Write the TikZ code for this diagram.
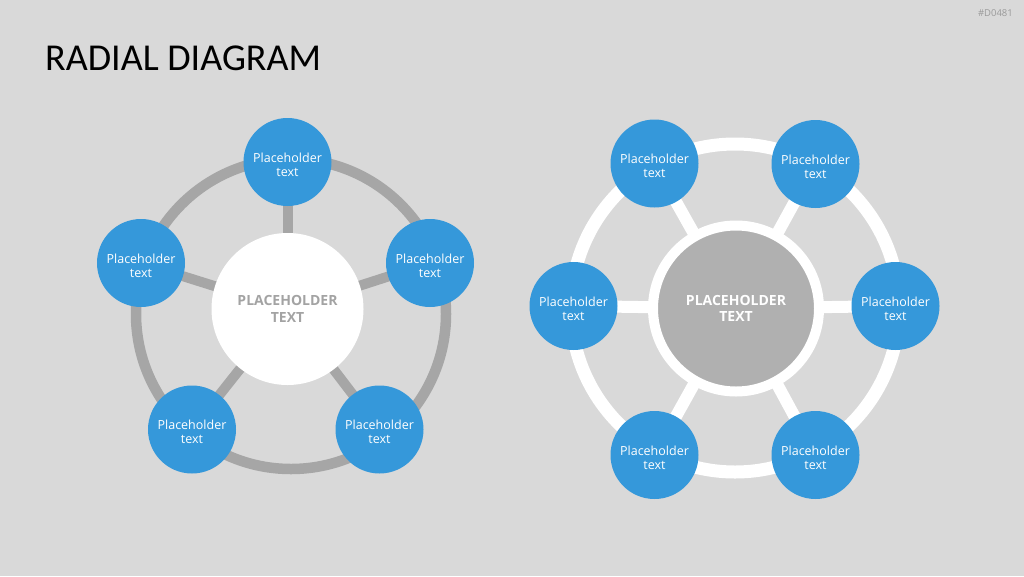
\documentclass[tikz,border=0pt]{standalone}
\usepackage{fontspec}
\setmainfont{Open Sans}
\newfontfamily\titlefont{Carlito}
\definecolor{bgcol}{HTML}{D9D9D9}
\definecolor{bluecol}{HTML}{3598DA}
\definecolor{ringgray}{HTML}{A6A6A6}
\definecolor{centergray}{HTML}{B0B0B0}
\definecolor{textgray}{HTML}{A3A3A3}
\definecolor{taggray}{HTML}{9A9A9A}
\pgfdeclarelayer{bg}
\pgfdeclarelayer{links}
\pgfsetlayers{bg,links,main}
\tikzset{
  sattext/.style={align=center, text=white, inner sep=0pt, yshift=-2.5pt,
    font=\fontsize{12.5}{14.3}\selectfont},
  sat/.style={circle, fill=bluecol, minimum size=88pt, inner sep=0pt,
    label={[sattext]center:{Placeholder\\text}}},
  centerL/.style={circle, fill=white, minimum size=152pt, inner sep=0pt, align=center,
    text=textgray, font=\bfseries\fontsize{14}{16.3}\selectfont},
  centerR/.style={circle, fill=centergray, draw=white, line width=10pt, minimum size=166pt,
    inner sep=0pt, align=center, text=white, font=\bfseries\fontsize{14}{16.3}\selectfont},
  spokeL/.style={draw=ringgray, line width=10pt},
  ringL/.style={draw=ringgray, line width=10.5pt},
  spokeR/.style={draw=white, line width=12pt},
  ringR/.style={draw=white, line width=13pt},
}
\begin{document}
\begin{tikzpicture}[x=1pt,y=-1pt]
\useasboundingbox (0,0) rectangle (1024,576);
\begin{pgfonlayer}{bg}
\fill[bgcol] (0,0) rectangle (1024,576);
\end{pgfonlayer}

\node[anchor=base west, font=\titlefont\fontsize{38}{42}\selectfont, inner sep=0pt] (title) at (45,70.7) {RADIAL DIAGRAM};
\node[anchor=base east, font=\fontsize{9.5}{11}\selectfont, text=taggray, inner sep=0pt] (tag) at (1013,16.5) {\#D0481};

% ---------- left diagram ----------
\coordinate (ringLc) at (291,314);
\node[centerL] (cL) at (287.5,309) {PLACEHOLDER\\TEXT};
\node[sat] (l1) at (287.5,162) {};
\node[sat] (l2) at (430,263) {};
\node[sat] (l3) at (379.5,429.5) {};
\node[sat] (l4) at (192,429.5) {};
\node[sat] (l5) at (141,263) {};
\begin{pgfonlayer}{links}
\draw[ringL] (ringLc) circle (155pt);
\foreach \s in {l1,l2,l3,l4,l5} \draw[spokeL] (cL.center) -- (\s.center);
\end{pgfonlayer}

% ---------- right diagram ----------
\coordinate (ringRc) at (735,308);
\node[centerR] (cR) at (736,308.5) {PLACEHOLDER\\TEXT};
\node[sat] (r1) at (654.5,163.5) {};
\node[sat] (r2) at (815.5,164) {};
\node[sat] (r3) at (895.5,306) {};
\node[sat] (r4) at (815.5,455) {};
\node[sat] (r5) at (654.5,455) {};
\node[sat] (r6) at (573.5,306) {};
\begin{pgfonlayer}{links}
\draw[ringR] (ringRc) circle (164pt);
\foreach \s in {r1,r2,r3,r4,r5,r6} \draw[spokeR] (cR.center) -- (\s.center);
\end{pgfonlayer}
\end{tikzpicture}
\end{document}
